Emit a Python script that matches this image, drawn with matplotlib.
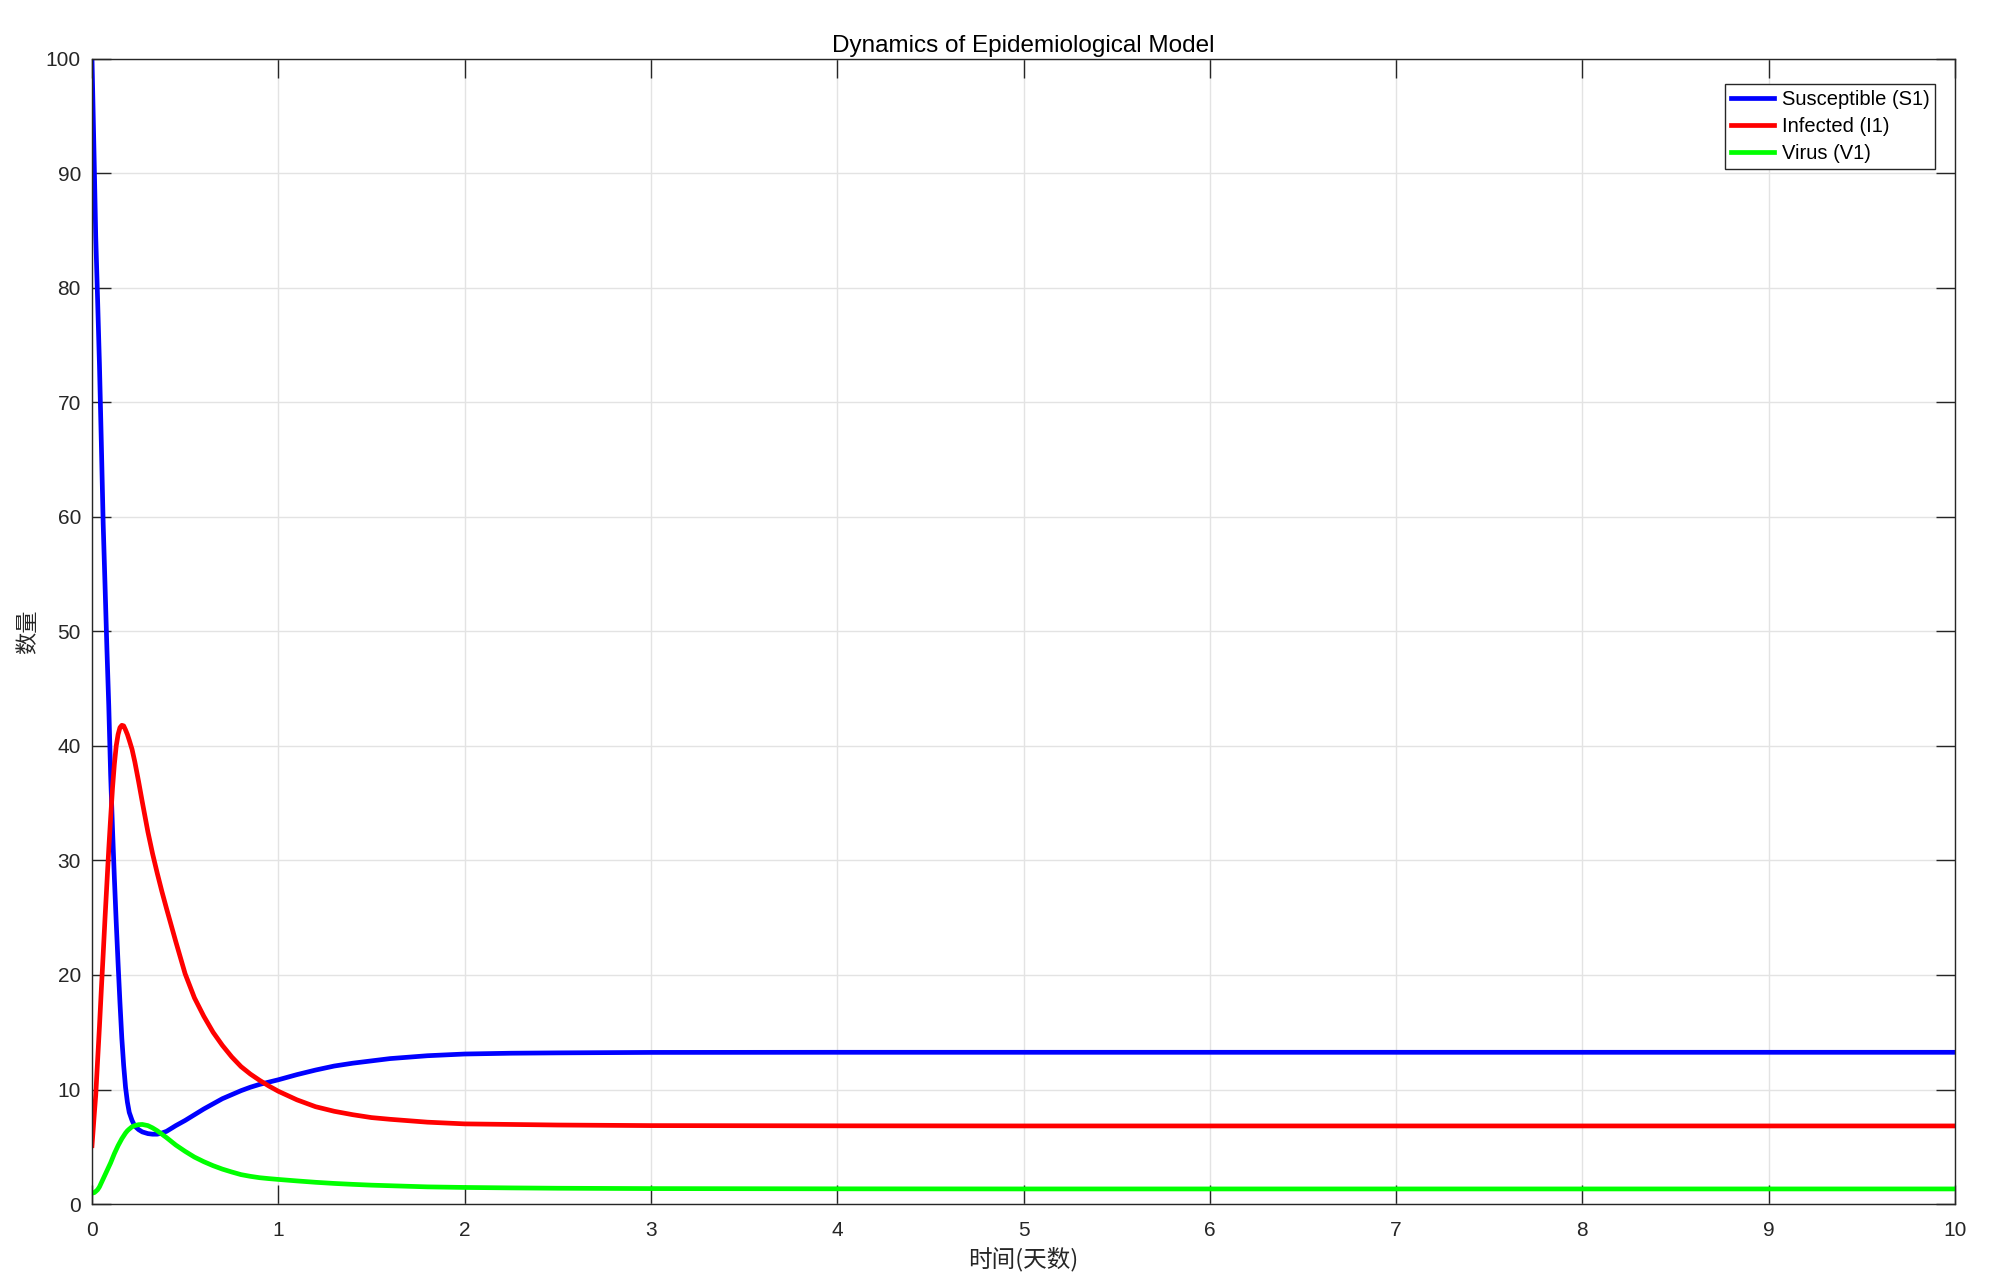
import matplotlib
matplotlib.use("Agg")
import matplotlib.pyplot as plt

# time points (days) and values
t_days = [0, 0.0125, 0.02, 0.03, 0.04, 0.05, 0.06, 0.07, 0.08, 0.09, 0.10, 0.11, 0.12, 0.13,
          0.14, 0.15, 0.16, 0.17, 0.18, 0.19, 0.20, 0.215, 0.23, 0.25, 0.27, 0.30, 0.325, 0.35,
          0.375, 0.40, 0.45, 0.50, 0.55, 0.60, 0.65, 0.70, 0.75, 0.80, 0.85, 0.90, 0.95, 1.0,
          1.1, 1.2, 1.3, 1.4, 1.5, 1.6, 1.8, 2.0, 2.25, 2.5,
          3.0, 4, 5, 6, 7, 8, 9, 10]

susceptible = [100, 90.5, 84.5, 79, 73.3, 66.5, 59.4, 54, 48.5, 43.5, 37.5, 32.8, 28.5, 24.6,
               21, 17.6, 14.5, 12.1, 10.2, 8.9, 8.0, 7.3, 6.8, 6.5, 6.3, 6.15, 6.1, 6.1,
               6.2, 6.35, 6.85, 7.3, 7.8, 8.3, 8.75, 9.2, 9.55, 9.9, 10.2, 10.45, 10.65, 10.85,
               11.3, 11.7, 12.05, 12.3, 12.5, 12.7, 12.95, 13.1, 13.17, 13.2,
               13.24, 13.25, 13.25, 13.25, 13.25, 13.25, 13.25, 13.25]

infected = [5.1, 7.9, 9.5, 12.5, 15.5, 18.7, 21.8, 25.0, 28.0, 31.0, 33.7, 36.3, 38.4, 40.0,
            41.0, 41.6, 41.8, 41.75, 41.4, 41.0, 40.5, 39.7, 38.6, 36.9, 35.1, 32.5, 30.6, 28.9,
            27.3, 25.8, 22.9, 20.1, 18.0, 16.4, 15.0, 13.85, 12.85, 12.0, 11.35, 10.8, 10.3, 9.85,
            9.1, 8.5, 8.1, 7.8, 7.55, 7.4, 7.15, 7.0, 6.95, 6.9,
            6.85, 6.83, 6.82, 6.82, 6.82, 6.82, 6.82, 6.82]

virus = [0.95, 1.0, 1.1, 1.25, 1.5, 1.85, 2.2, 2.55, 2.9, 3.25, 3.6, 4.0, 4.4, 4.75,
         5.1, 5.4, 5.7, 5.95, 6.2, 6.4, 6.55, 6.75, 6.85, 6.93, 6.95, 6.85, 6.65, 6.4,
         6.1, 5.8, 5.15, 4.6, 4.1, 3.7, 3.35, 3.05, 2.8, 2.57, 2.42, 2.3, 2.22, 2.15,
         2.02, 1.9, 1.8, 1.72, 1.65, 1.6, 1.5, 1.45, 1.41, 1.38,
         1.35, 1.33, 1.32, 1.32, 1.32, 1.32, 1.32, 1.32]

plt.rcParams["font.family"] = ["Liberation Sans", "Noto Sans CJK SC", "DejaVu Sans"]

fig = plt.figure(figsize=(20, 12.82), dpi=100)
ax = fig.add_axes([0.046, 0.0608, 0.9315, 0.8934])

ax.plot(t_days, susceptible, color="#0000ff", lw=3.4, label="Susceptible (S1)")
ax.plot(t_days, infected, color="#ff0000", lw=3.4, label="Infected (I1)")
ax.plot(t_days, virus, color="#00ff00", lw=3.4, label="Virus (V1)")

ax.set_xlim(0, 10)
ax.set_ylim(0, 100)
ax.set_xticks(range(0, 11))
ax.set_yticks(range(0, 101, 10))
ax.grid(True, color="#e3e3e3", lw=1.0)
ax.set_axisbelow(True)
ax.tick_params(direction="in", length=13.5, width=1.0, color="#262626",
               labelsize=15, labelcolor="#262626", top=True, right=True, pad=8)
ax.tick_params(axis="x", pad=12)
for s in ax.spines.values():
    s.set_color("#262626")
    s.set_linewidth(1.0)

cjk = ["Noto Sans CJK SC", "DejaVu Sans"]
ax.set_xlabel("时间(天数)", fontsize=17, family=cjk, color="#262626", labelpad=5)
ax.set_ylabel("数量", fontsize=16, family=cjk, color="#262626", labelpad=4.5)
ax.set_title("Dynamics of Epidemiological Model", fontsize=17.5, color="#000000", pad=5)

leg = ax.legend(loc="upper right", bbox_to_anchor=(0.9895, 0.978), fontsize=14.5,
                fancybox=False, framealpha=1, edgecolor="#262626", handlelength=2.1,
                handletextpad=0.4, labelspacing=0.4, borderpad=0.3, borderaxespad=0)
leg.get_frame().set_linewidth(1.0)

fig.savefig("out.png", dpi=100)
